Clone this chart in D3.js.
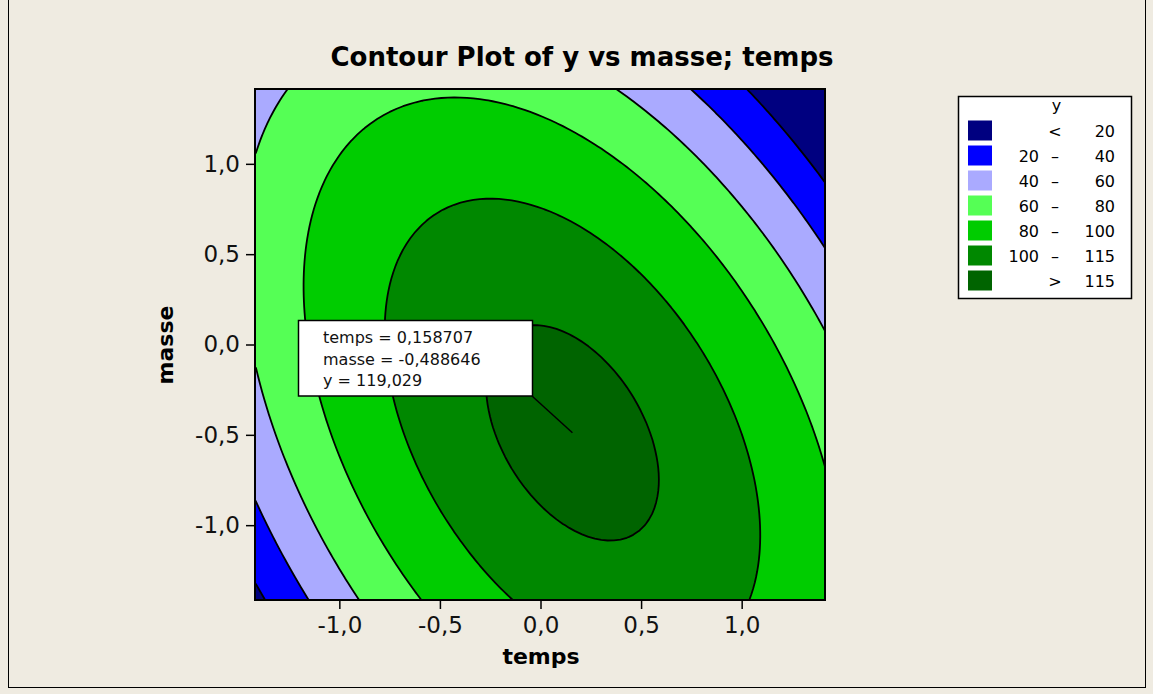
<!DOCTYPE html>
<html>
<head>
<meta charset="utf-8">
<script src="https://cdn.jsdelivr.net/npm/d3@7"></script>
<style>
  html, body { margin: 0; padding: 0; background: #efebe1; }
  svg { display: block; font-family: "DejaVu Sans", Verdana, sans-serif; }
  .tick text { font-family: "DejaVu Sans", Verdana, sans-serif; font-size: 23px; fill: #111; }
  .tick line { stroke: #000; stroke-width: 1.5; }
  .domain { display: none; }
</style>
</head>
<body>
<svg id="chart" width="1153" height="694"></svg>
<script>
// fitted response surface, coded units
const termNames = ["Constant", "temps", "masse", "temps*temps", "masse*masse", "temps*masse"];
const termCoefs = [116.32, 0.27, -10.99, -27.0, -14.0, -17.0];

// contour levels and band colours
const levels = [20, 40, 60, 80, 100, 115];
const bandLabels = [["", "<", "20"], ["20", "–", "40"], ["40", "–", "60"], ["60", "–", "80"],
  ["80", "–", "100"], ["100", "–", "115"], ["", ">", "115"]];
const bandColors = ["#000080", "#0000ff", "#aaaaff", "#55ff55", "#00cc00", "#008800", "#006400"];

const xTicks = [-1.0, -0.5, 0.0, 0.5, 1.0];
const yTicks = [-1.0, -0.5, 0.0, 0.5, 1.0];

// crosshair label
const hoverNames = ["temps", "masse", "y"];
const hoverValues = [0.158707, -0.488646, 119.029];

const svg = d3.select("#chart");
const alpha = Math.SQRT2;
const plot = { left: 256, right: 825, top: 89, bottom: 600 };

const x = d3.scaleLinear().domain([-alpha, alpha]).range([plot.left, plot.right]);
const y = d3.scaleLinear().domain([-alpha, alpha]).range([plot.bottom, plot.top]);

const comma = d => d.toFixed(1).replace(".", ",");

// outer figure border
svg.append("rect")
  .attr("x", 8.5).attr("y", -2).attr("width", 1137).attr("height", 689.5)
  .attr("fill", "#efebe1").attr("stroke", "#000").attr("stroke-width", 1);

// grid built from the model terms
const n = 90;
const step = 2 * alpha / (n - 1);
const grid = new Array(n * n);
for (let j = 0; j < n; j++) {
  const m = -alpha + j * step;
  for (let i = 0; i < n; i++) {
    const t = -alpha + i * step;
    const terms = [1, t, m, t * t, m * m, t * m];
    grid[j * n + i] = d3.sum(terms, (v, k) => v * termCoefs[k]);
  }
}

const contours = d3.contours().size([n, n]).thresholds(levels)(grid);
const toPx = p => [x(-alpha + (p[0] - 0.5) * step), y(-alpha + (p[1] - 0.5) * step)];
const pathOf = c => c.coordinates.map(poly =>
  poly.map(ring => "M" + ring.map(p => toPx(p).join(",")).join("L") + "Z").join("")).join("");

svg.append("clipPath").attr("id", "clip")
  .append("rect")
  .attr("x", plot.left).attr("y", plot.top)
  .attr("width", plot.right - plot.left).attr("height", plot.bottom - plot.top);

const g = svg.append("g").attr("clip-path", "url(#clip)");
g.append("rect")
  .attr("x", plot.left).attr("y", plot.top)
  .attr("width", plot.right - plot.left).attr("height", plot.bottom - plot.top)
  .attr("fill", bandColors[0]);
g.selectAll("path.band")
  .data(contours)
  .enter()
  .append("path")
  .attr("class", "band")
  .attr("d", pathOf)
  .attr("fill", (d, i) => bandColors[i + 1]);
g.selectAll("path.line")
  .data(contours)
  .enter()
  .append("path")
  .attr("class", "line")
  .attr("d", pathOf)
  .attr("fill", "none")
  .attr("stroke", "#000")
  .attr("stroke-width", 1.8)
  .attr("stroke-linejoin", "round");

// frame
svg.append("rect")
  .attr("x", plot.left - 1).attr("y", plot.top)
  .attr("width", plot.right - plot.left + 1).attr("height", plot.bottom - plot.top)
  .attr("fill", "none").attr("stroke", "#000").attr("stroke-width", 2);

// axes
svg.append("g")
  .attr("transform", `translate(0,${plot.bottom})`)
  .call(d3.axisBottom(x).tickValues(xTicks).tickFormat(comma).tickSize(9).tickPadding(8));
svg.append("g")
  .attr("transform", `translate(${plot.left - 1},0)`)
  .call(d3.axisLeft(y).tickValues(yTicks).tickFormat(comma).tickSize(9).tickPadding(6));

// titles
svg.append("text")
  .attr("x", 582).attr("y", 66)
  .attr("text-anchor", "middle")
  .attr("font-size", 26).attr("font-weight", "bold")
  .text("Contour Plot of y vs masse; temps");
svg.append("text")
  .attr("x", 541).attr("y", 664)
  .attr("text-anchor", "middle")
  .attr("font-size", 22).attr("font-weight", "bold")
  .text("temps");
svg.append("text")
  .attr("transform", "translate(173,345) rotate(-90)")
  .attr("text-anchor", "middle")
  .attr("font-size", 22).attr("font-weight", "bold")
  .text("masse");

// crosshair annotation
const px = x(hoverValues[0]), py = y(hoverValues[1]);
svg.append("line")
  .attr("x1", 532).attr("y1", 396).attr("x2", px).attr("y2", py)
  .attr("stroke", "#000").attr("stroke-width", 1.5);
svg.append("rect")
  .attr("x", 298.5).attr("y", 320.5).attr("width", 234).attr("height", 75.5)
  .attr("fill", "#fff").attr("stroke", "#000").attr("stroke-width", 1.5);
const fmt = v => String(v).replace(".", ",");
svg.append("g").selectAll("text")
  .data(hoverNames)
  .enter()
  .append("text")
  .attr("x", 323).attr("y", (d, i) => 343 + i * 21.7)
  .attr("font-size", 16).attr("fill", "#111")
  .text((d, i) => `${d} = ${fmt(hoverValues[i])}`);

// legend
const lg = svg.append("g");
lg.append("rect")
  .attr("x", 958.5).attr("y", 96.5).attr("width", 173).attr("height", 202)
  .attr("fill", "#fff").attr("stroke", "#000").attr("stroke-width", 1.5);
lg.append("text")
  .attr("x", 1056.5).attr("y", 111)
  .attr("text-anchor", "middle").attr("font-size", 16).text("y");
const rows = lg.selectAll("g.row")
  .data(bandLabels)
  .enter()
  .append("g")
  .attr("class", "row")
  .attr("transform", (d, i) => `translate(0,${130.5 + i * 25})`);
rows.append("rect")
  .attr("x", 968).attr("y", -10).attr("width", 24).attr("height", 20)
  .attr("fill", (d, i) => bandColors[i]);
rows.append("text").attr("x", 1039).attr("y", 6)
  .attr("text-anchor", "end").attr("font-size", 16).text(d => d[0]);
rows.append("text").attr("x", 1055).attr("y", 6)
  .attr("text-anchor", "middle").attr("font-size", 16).text(d => d[1]);
rows.append("text").attr("x", 1115).attr("y", 6)
  .attr("text-anchor", "end").attr("font-size", 16).text(d => d[2]);
</script>
</body>
</html>
